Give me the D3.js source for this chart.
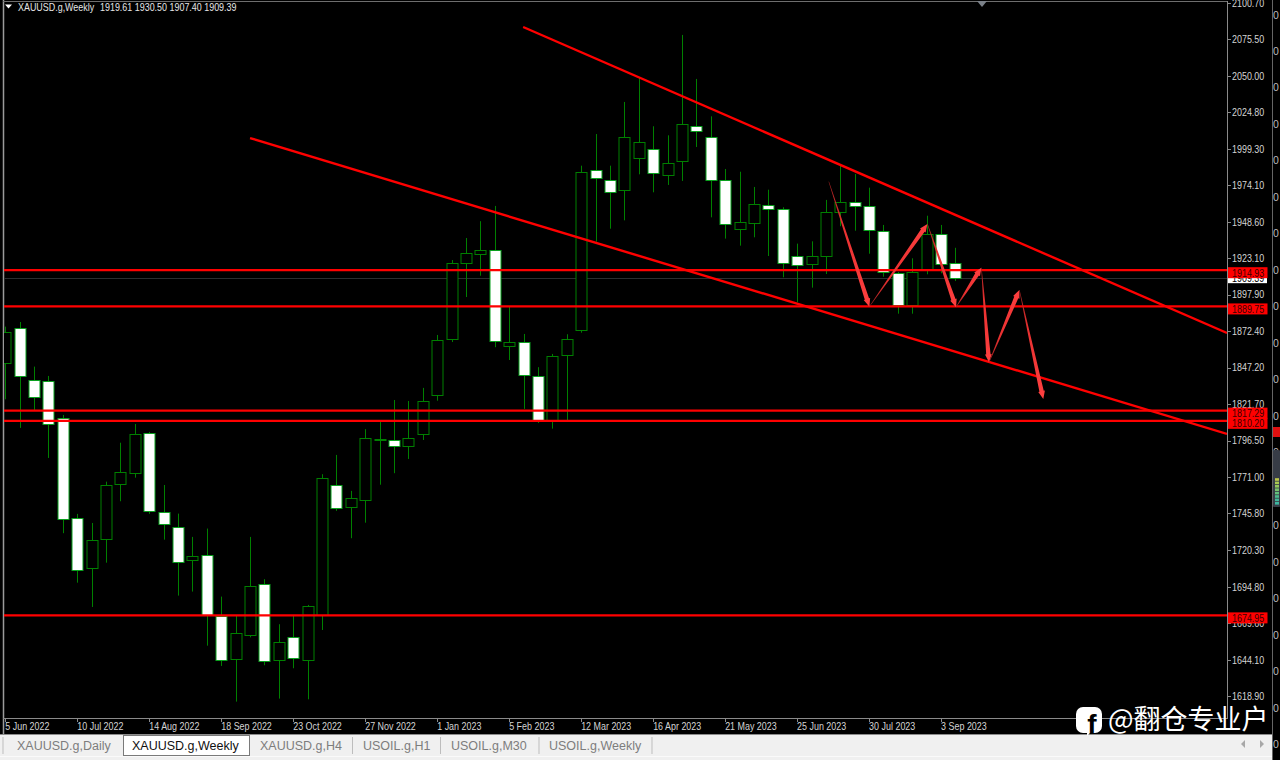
<!DOCTYPE html>
<html><head><meta charset="utf-8">
<script src="https://cdn.jsdelivr.net/npm/d3@7"></script>
<style>html,body{margin:0;padding:0;background:#000;overflow:hidden}svg{display:block}</style>
</head><body><svg id="c" width="1280" height="760"></svg>
<script>
const opens =[1850.2,1874.8,1838.4,1837.7,1812.0,1742.9,1708.1,1727.9,1766.1,1774.2,1801.6,1747.1,1736.2,1713.3,1716.8,1674.6,1644.5,1661.3,1696.6,1643.8,1659.7,1643.8,1675.3,1765.6,1750.5,1755.0,1796.7,1797.1,1792.9,1800.9,1828.0,1866.9,1919.8,1926.0,1929.0,1862.1,1865.3,1841.6,1810.8,1855.8,1873.2,1984.6,1977.7,1970.5,1992.7,1999.0,1980.9,1990.7,2015.4,2007.6,1977.5,1943.4,1947.6,1960.3,1957.7,1925.0,1919.1,1924.8,1955.2,1962.2,1959.4,1942.4,1913.0,1890.8,1915.1,1940.3,1919.61];
const highs =[1875.7,1878.9,1847.9,1841.4,1814.3,1745.5,1739.2,1767.9,1795.0,1808.0,1802.5,1765.6,1745.7,1729.5,1735.3,1688.0,1674.6,1729.5,1700.1,1668.8,1674.6,1682.2,1773.1,1786.5,1761.5,1804.4,1809.6,1824.7,1824.0,1833.1,1869.9,1922.0,1937.3,1949.0,1959.6,1889.4,1870.6,1847.5,1856.7,1870.4,1987.6,2009.6,1987.6,2031.9,2048.8,2015.0,2008.7,2078.5,2047.9,2021.9,1985.3,1983.4,1972.8,1970.9,1958.7,1933.4,1935.0,1963.8,1987.4,1981.8,1972.3,1946.4,1913.7,1923.2,1952.8,1946.4,1930.50];
const lows  =[1825.2,1805.3,1817.8,1784.4,1732.1,1697.7,1680.8,1711.6,1754.3,1770.7,1745.5,1727.6,1688.7,1691.5,1653.9,1639.8,1615.0,1659.7,1640.3,1617.1,1638.2,1616.6,1664.8,1747.6,1728.6,1739.4,1765.8,1773.8,1783.7,1796.9,1824.2,1865.0,1896.3,1911.1,1861.4,1852.5,1818.5,1808.7,1804.8,1809.6,1871.5,1934.8,1943.8,1949.6,1981.6,1969.1,1974.2,1977.0,2000.6,1951.7,1936.9,1932.0,1937.8,1924.8,1910.0,1892.6,1902.8,1912.3,1945.5,1942.4,1926.4,1910.4,1884.7,1884.7,1912.1,1912.8,1907.40];
const closes=[1871.8,1841.6,1826.6,1807.8,1741.8,1706.5,1727.2,1765.4,1774.5,1800.9,1747.6,1738.7,1711.9,1716.1,1675.3,1644.0,1662.5,1695.2,1643.5,1656.3,1645.1,1681.5,1770.7,1749.8,1756.4,1798.1,1797.4,1792.9,1798.1,1823.8,1866.2,1919.8,1926.7,1928.8,1865.5,1865.3,1842.1,1811.0,1855.1,1866.9,1983.4,1979.3,1969.3,2007.6,2004.1,1982.5,1989.3,2016.4,2011.5,1977.5,1946.9,1948.3,1960.8,1957.5,1919.8,1918.8,1925.0,1955.2,1962.2,1959.4,1942.7,1913.5,1890.6,1913.9,1939.9,1919.3,1909.39];
const priceTicks=[2100.70,2075.50,2050.00,2024.80,1999.30,1974.10,1948.60,1923.10,1897.90,1872.40,1847.20,1821.70,1796.50,1771.00,1745.80,1720.30,1694.80,1669.60,1644.10,1618.90];
const dateTicks=["5 Jun 2022","10 Jul 2022","14 Aug 2022","18 Sep 2022","23 Oct 2022","27 Nov 2022","1 Jan 2023","5 Feb 2023","12 Mar 2023","16 Apr 2023","21 May 2023","25 Jun 2023","30 Jul 2023","3 Sep 2023"];
const dateTickBars=[0,5,10,15,20,25,30,35,40,45,50,55,60,65];
const levels=[1914.93,1889.75,1817.29,1810.20,1674.95];
const lastPrice=1909.39;
const trendBars=[[35.97,84.86],[17.0,84.86]];
const trendPrices=[[2084.0,1871.3],[2006.8,1801.1]];
const pathBars=[57.2,60.02,64.05,66.04,67.8,68.33,70.44,72.1];
const pathPrices=[1976.5,1889.6,1947.1,1889.2,1916.7,1850.9,1901.2,1825.4];
const tabNames=["XAUUSD.g,Daily","XAUUSD.g,Weekly","XAUUSD.g,H4","USOIL.g,H1","USOIL.g,M30","USOIL.g,Weekly"];
const titleName="XAUUSD.g,Weekly";
const titleValues="1919.61 1930.50 1907.40 1909.39";
const watermark="@翻仓专业户";

const svg=d3.select("#c");
const FONT="'Liberation Sans',Arial,sans-serif";
const X0=4,X1=1227,AXB=718;
const x=d3.scaleLinear().domain([0,84.86]).range([5.3,1227]);
const y=d3.scaleLinear().domain([1618.9,2100.7]).range([696,3]);
const FS=10.5, NARROW=0.85;
function squeeze(sel){sel.each(function(){const n=this.getComputedTextLength();this.setAttribute("textLength",(n*NARROW).toFixed(1));this.setAttribute("lengthAdjust","spacingAndGlyphs");});return sel;}

svg.append("rect").attr("width",1280).attr("height",760).attr("fill","#000");
const defs=svg.append("defs");
defs.append("clipPath").attr("id","plot").append("rect").attr("x",X0).attr("y",2).attr("width",X1-X0).attr("height",AXB-2);
defs.append("clipPath").attr("id","strip").append("rect").attr("x",1273).attr("y",0).attr("width",7).attr("height",760);

svg.append("line").attr("x1",3.5).attr("x2",3.5).attr("y1",0).attr("y2",735).attr("stroke","#9a9a9a").attr("stroke-width",1.5);
svg.append("line").attr("x1",3).attr("x2",X1).attr("y1",1.5).attr("y2",1.5).attr("stroke","#6e6e6e");
svg.append("line").attr("x1",X1+.5).attr("x2",X1+.5).attr("y1",1).attr("y2",AXB).attr("stroke","#8a8a8a");
svg.append("line").attr("x1",3).attr("x2",X1+1).attr("y1",AXB+.5).attr("y2",AXB+.5).attr("stroke","#8a8a8a");

const plot=svg.append("g").attr("clip-path","url(#plot)");
plot.append("line").attr("x1",X0).attr("x2",X1).attr("y1",Math.round(y(lastPrice))+.5).attr("y2",Math.round(y(lastPrice))+.5).attr("stroke","#2b2d30");

const idx=d3.range(opens.length);
const cx=i=>Math.round(x(i))+.5;
const g=plot.append("g");
g.selectAll("line.w").data(idx).join("line").attr("class","w")
 .attr("x1",cx).attr("x2",cx).attr("y1",i=>y(highs[i])).attr("y2",i=>y(lows[i]))
 .attr("stroke","#008000").attr("stroke-width",1);
g.selectAll("rect.b").data(idx).join("rect").attr("class","b")
 .attr("x",i=>cx(i)-5.5).attr("width",11)
 .attr("y",i=>Math.round(y(Math.max(opens[i],closes[i])))+.5)
 .attr("height",i=>Math.max(1,Math.round(y(Math.min(opens[i],closes[i])))-Math.round(y(Math.max(opens[i],closes[i])))))
 .attr("fill",i=>closes[i]<opens[i]?"#fff":"#000")
 .attr("stroke",i=>closes[i]<opens[i]?"#0aa01e":"#008000").attr("stroke-width",1);

plot.selectAll("line.l").data(levels).join("line").attr("class","l")
 .attr("x1",X0).attr("x2",X1).attr("y1",d=>y(d)).attr("y2",d=>y(d))
 .attr("stroke","#f00").attr("stroke-width",2.2);
plot.selectAll("line.t").data(d3.range(trendBars.length)).join("line").attr("class","t")
 .attr("x1",k=>x(trendBars[k][0])).attr("x2",k=>x(trendBars[k][1]))
 .attr("y1",k=>y(trendPrices[k][0])).attr("y2",k=>y(trendPrices[k][1]))
 .attr("stroke","#f00").attr("stroke-width",2.4);

d3.range(pathBars.length-1).forEach(k=>{
  const ax=x(pathBars[k]),ay=y(pathPrices[k]),bx=x(pathBars[k+1]),by=y(pathPrices[k+1]);
  const L=Math.hypot(bx-ax,by-ay),ux=(bx-ax)/L,uy=(by-ay)/L,nx=-uy,ny=ux;
  const headL=8,headW=3.4,shaft=2.2;
  const nk=[bx-ux*headL,by-uy*headL];
  const pts=[[ax+nx*.2,ay+ny*.2],[nk[0]+nx*shaft,nk[1]+ny*shaft],[nk[0]+nx*headW,nk[1]+ny*headW],[bx,by],
             [nk[0]-nx*headW,nk[1]-ny*headW],[nk[0]-nx*shaft,nk[1]-ny*shaft],[ax-nx*.2,ay-ny*.2]];
  const id="ag"+k;
  defs.append("linearGradient").attr("id",id).attr("gradientUnits","userSpaceOnUse")
    .attr("x1",ax).attr("y1",ay).attr("x2",bx).attr("y2",by)
    .selectAll("stop").data([[0,"#a02020"],[.35,"#e83030"],[1,"#ff4040"]]).join("stop")
    .attr("offset",d=>d[0]).attr("stop-color",d=>d[1]);
  svg.append("polygon").attr("points",pts.map(p=>p.join(",")).join(" ")).attr("fill",`url(#${id})`);
});

const ax=svg.append("g").attr("font-family",FONT).attr("font-size",FS).attr("fill","#d4d4d4");
ax.selectAll("line").data(priceTicks).join("line").attr("x1",X1+1).attr("x2",X1+4)
  .attr("y1",d=>Math.round(y(d))+.5).attr("y2",d=>Math.round(y(d))+.5).attr("stroke","#8a8a8a");
squeeze(ax.selectAll("text").data(priceTicks).join("text").attr("x",1232).attr("y",d=>y(d)+3.8).text(d=>d.toFixed(2)));

const ly=svg.append("g").attr("font-family",FONT).attr("font-size",FS);
ly.append("rect").attr("x",1228).attr("width",39).attr("y",y(lastPrice)-5).attr("height",10).attr("fill","#fff");
squeeze(ly.append("text").attr("x",1232).attr("y",y(lastPrice)+3.8).attr("fill","#000").text(lastPrice.toFixed(2)));
levels.forEach(v=>{
  ly.append("rect").attr("x",1228).attr("width",39.5).attr("y",y(v)-3).attr("height",11).attr("fill","#f00");
  squeeze(ly.append("text").attr("x",1232).attr("y",y(v)+6.3).attr("fill","#3a0000").text(v.toFixed(2)));
});

const tx=svg.append("g").attr("font-family",FONT).attr("font-size",FS).attr("fill","#d4d4d4");
tx.selectAll("line").data(dateTickBars).join("line").attr("x1",i=>cx(i)).attr("x2",i=>cx(i)).attr("y1",AXB).attr("y2",AXB+4).attr("stroke","#8a8a8a");
squeeze(tx.selectAll("text").data(dateTicks).join("text").attr("x",(d,i)=>Math.max(4,x(dateTickBars[i]))).attr("y",730).text(d=>d));

svg.append("path").attr("d","M5,4.5 h7 l-3.5,4 z").attr("fill","#fff");
squeeze(svg.append("text").attr("x",18).attr("y",11).attr("font-family",FONT).attr("font-size",FS).attr("fill","#e6e6e6").text(titleName));
squeeze(svg.append("text").attr("x",100).attr("y",11).attr("font-family",FONT).attr("font-size",FS).attr("fill","#e6e6e6").text(titleValues));
svg.append("path").attr("d","M977,1 h10 l-5,6 z").attr("fill","#7a8088");

svg.append("rect").attr("x",0).attr("y",735).attr("width",1272).attr("height",25).attr("fill","#f0f0f0");
svg.append("line").attr("x1",0).attr("x2",1272).attr("y1",734.5).attr("y2",734.5).attr("stroke","#8c8c8c");
svg.append("line").attr("x1",0).attr("x2",1272).attr("y1",756.5).attr("y2",756.5).attr("stroke","#fafafa");
svg.append("rect").attr("x",123.5).attr("y",735.5).attr("width",126).attr("height",20).attr("fill","#fff").attr("stroke","#7a7a7a");
const tabTextX=[17,132,260,363,451,549];
const tabSep=[3,352.5,440.5,539,652];
svg.selectAll("line.s").data(tabSep).join("line").attr("class","s").attr("x1",d=>d).attr("x2",d=>d).attr("y1",737).attr("y2",754).attr("stroke","#bdbdbd");
svg.selectAll("text.tab").data(tabNames).join("text").attr("class","tab")
 .attr("x",(d,i)=>tabTextX[i]).attr("y",749.5).attr("font-family",FONT).attr("font-size",12.5)
 .attr("fill",(d,i)=>i==1?"#111":"#7d7d7d").text(d=>d);
svg.append("path").attr("d","M1245,740 v8 l-4,-4 z").attr("fill","#a8a8a8");
svg.append("path").attr("d","M1260,740 v8 l4,-4 z").attr("fill","#a8a8a8");

svg.append("line").attr("x1",1272.5).attr("x2",1272.5).attr("y1",0).attr("y2",760).attr("stroke","#666");
const strip=svg.append("g").attr("clip-path","url(#strip)");
strip.append("rect").attr("x",1273).attr("y",427).attr("width",7).attr("height",10).attr("fill","#e01010");
strip.selectAll("text").data(priceTicks.concat([1593.7])).join("text").attr("x",1273).attr("y",d=>y(d)+15.5)
 .attr("font-family",FONT).attr("font-size",FS).attr("fill","#bbb").text("0");
strip.append("rect").attr("x",1272).attr("y",450).attr("width",9).attr("height",57).attr("rx",3).attr("fill","#373c46");
const meter=["#3fb6a0","#41b89a","#4cbb8e","#62bf7c","#78c36c","#92c75c","#a8c850","#bcc84a"];
meter.forEach((c,i)=>strip.append("rect").attr("x",1275).attr("width",4).attr("y",502-i*3.4).attr("height",2.6).attr("fill",c));

const wm=svg.append("g");
wm.append("rect").attr("x",1076).attr("y",707).attr("width",26).attr("height",26).attr("rx",7).attr("fill","#fff");
wm.append("path").attr("d","M1087,731 l0,5 l5,-5 z").attr("fill","#fff");
wm.append("text").attr("x",1092).attr("y",734).attr("text-anchor","middle").attr("font-family",FONT).attr("font-weight","bold").attr("font-size",28).attr("fill","#000").text("f");
wm.append("text").attr("x",1108).attr("y",729).attr("font-family","'Noto Sans CJK SC',sans-serif").attr("font-size",27).attr("fill","#fff").text(watermark);
</script></body></html>
